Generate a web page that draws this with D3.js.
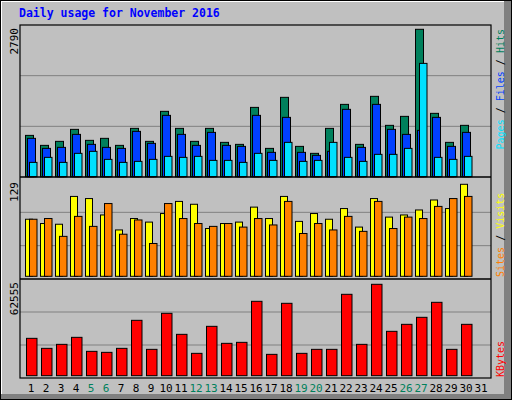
<!DOCTYPE html>
<html><head><meta charset="utf-8">
<script src="https://cdn.jsdelivr.net/npm/d3@7"></script>
<style>body{margin:0;background:#fff}svg{display:block}</style>
</head><body><svg id="c" width="512" height="400"></svg>
<script>
const days = d3.range(1, 32);
const weekend = [5, 6, 12, 13, 19, 20, 26, 27];
const hits  = [782,593,669,896,688,726,593,915,669,1237,915,669,915,650,612,1312,536,1502,574,442,915,1369,612,1521,972,1142,2790,1199,650,972];
const files = [726,536,555,801,612,555,536,858,631,1161,801,593,839,593,574,1161,461,1123,461,404,480,1275,555,1369,896,801,877,1123,574,839];
const pages = [271,366,271,442,480,328,271,290,328,385,366,385,309,309,271,442,309,650,290,309,650,366,290,423,423,536,2145,366,328,385];
const visits = [80,74,73,112,109,86,65,81,76,88,105,101,67,74,76,97,81,112,77,88,80,95,69,109,83,86,93,107,95,129];
const sites  = [80,81,56,84,70,102,59,79,46,102,81,74,70,74,69,81,72,105,60,74,65,84,63,105,67,83,81,98,109,112];
const kbytes = [25570,18721,21460,26255,16666,15981,18721,37898,18036,42692,28309,15296,33788,22145,22830,50911,14611,49541,15296,18036,18036,55705,21460,62555,30364,35158,39953,50226,18036,35158];
const maxLabels = ["2790", "129", "62555"];

const svg = d3.select("#c");
const mono = "DejaVu Sans Mono, monospace";
svg.append("rect").attr("width",512).attr("height",400).attr("fill","#000");
svg.append("rect").attr("x",1).attr("y",1).attr("width",510).attr("height",398).attr("fill","#808080");
svg.append("rect").attr("x",1).attr("y",1).attr("width",503).attr("height",393).attr("fill","#fff");
svg.append("rect").attr("x",2).attr("y",2).attr("width",502).attr("height",392).attr("fill","#C0C0C0");

svg.append("text").attr("x",19).attr("y",17).attr("font-family",mono).attr("font-weight","bold")
  .attr("font-size",11.5).attr("fill","#0000FF").text("Daily usage for November 2016");

const x = d3.scaleBand().domain(days).range([20, 485]).paddingInner(0);
const X = d => x(d) + 5.5;

const panels = [
  {top:25, bot:177, base:176.7, maxY:29.3, max:2790,
   series:[{v:hits,c:"#00805C",o:0,w:8},{v:files,c:"#0040FF",o:2,w:8},{v:pages,c:"#00E0FF",o:4,w:7.5}]},
  {top:179, bot:279, base:276.3, maxY:184.3, max:129,
   series:[{v:visits,c:"#FFFF00",o:0,w:7},{v:sites,c:"#FF8000",o:4,w:7.5}]},
  {top:279, bot:378, base:375.7, maxY:284.3, max:62555,
   series:[{v:kbytes,c:"#FF0000",o:1,w:10.5}]}
];
panels.forEach((p,i) => {
  const y = d3.scaleLinear().domain([0,p.max]).range([p.base,p.maxY]);
  // gridlines
  const h = (p.bot - p.top);
  [1/3, 2/3].forEach(f => svg.append("line").attr("x1",20).attr("x2",491)
     .attr("y1",p.top + h*f).attr("y2",p.top + h*f).attr("stroke","#808080").attr("stroke-width",1));
  p.series.forEach(s => {
    svg.append("g").selectAll("rect").data(s.v).join("rect")
      .attr("x",(d,j)=>X(days[j])+s.o).attr("width",s.w)
      .attr("y",d=>y(d)).attr("height",d=>p.base-y(d))
      .attr("fill",s.c).attr("stroke","#000").attr("stroke-width",1);
  });
  svg.append("text").attr("transform",`translate(18,${p.top+3}) rotate(-90)`).attr("text-anchor","end")
    .attr("font-family",mono).attr("font-size",11).attr("fill","#000").text(maxLabels[i]);
});
// frame
svg.append("rect").attr("x",20).attr("y",25).attr("width",471).attr("height",353)
  .attr("fill","none").attr("stroke","#000").attr("stroke-width",1.2);
[177,279].forEach(yy=>svg.append("line").attr("x1",20).attr("x2",491).attr("y1",yy).attr("y2",yy)
  .attr("stroke","#000").attr("stroke-width",1.5));

// right labels
function sideLabel(parts, yy, anchor){
  const t = svg.append("text").attr("transform",`translate(504,${yy}) rotate(-90)`)
    .attr("text-anchor",anchor).attr("font-family",mono).attr("font-size",10);
  parts.forEach(([s,c])=>t.append("tspan").attr("fill",c).text(s));
}
sideLabel([["Pages","#00E0FF"],[" / ","#000"],["Files","#0040FF"],[" / ","#000"],["Hits","#00805C"]], 29, "end");
sideLabel([["Sites","#FF8000"],[" / ","#000"],["Visits","#FFFF00"]], 277, "start");
sideLabel([["KBytes","#FF0000"]], 377, "start");

// x labels
svg.append("g").selectAll("text").data(days).join("text")
  .attr("x",d=>X(d)+5.5).attr("y",392).attr("text-anchor","middle")
  .attr("font-family",mono).attr("font-size",11)
  .attr("fill",d=>weekend.includes(d)?"#00805C":"#000").text(d=>d);
</script></body></html>
